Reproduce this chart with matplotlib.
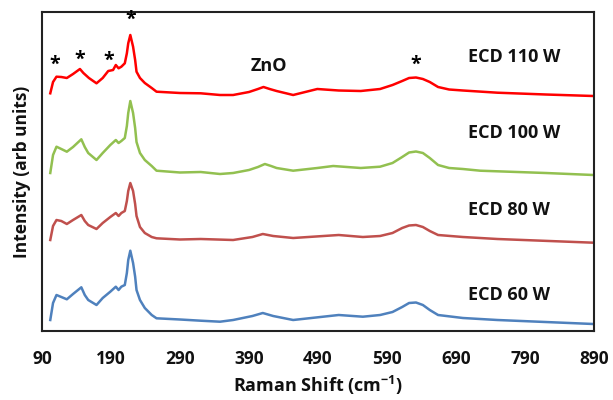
import numpy as np
import matplotlib.pyplot as plt

# Raman shift positions (cm-1) and intensities
shift_110 = [102, 106, 111, 118, 126, 135, 145, 150, 158, 169, 178, 186, 193, 197, 201, 205, 210, 213, 215, 218, 222, 225, 227, 232, 239, 249, 256, 290, 320, 348, 367, 390, 403, 411, 420, 430, 454, 489, 520, 552, 580, 598, 612, 622, 632, 642, 652, 664, 680, 700, 750, 820, 889]
ecd_110 = [237.7, 249, 254.3, 254, 253, 257, 262, 258, 253, 247.7, 253, 260, 261, 266, 262.7, 264.3, 267.7, 277.7, 287.7, 296, 284.3, 271, 259.3, 253, 248, 243, 239.3, 238, 237.7, 236, 236, 239, 242, 244, 242, 240, 236, 242, 240.5, 240, 242, 246, 250, 253, 253.5, 252, 249, 244, 241.5, 240.5, 238.3, 236.5, 235]

shift_100 = [102, 106, 111, 118, 126, 135, 147, 152, 157, 169, 178, 189, 197, 201, 205, 210, 213, 215, 218, 222, 225, 227, 232, 239, 249, 256, 290, 320, 348, 367, 390, 403, 413, 422, 430, 454, 489, 512, 552, 580, 598, 612, 622, 632, 642, 652, 664, 680, 700, 725, 820, 889]
ecd_100 = [158, 176, 184.3, 182, 179.3, 184, 191.7, 184, 178, 171, 178, 186, 191, 188, 190, 193, 205, 218, 230, 218, 203, 189, 178, 171, 165, 160.3, 158.5, 159, 157, 158, 161, 164, 167, 165, 163, 160.3, 163, 165, 163, 164.3, 168, 174, 178.5, 179.5, 178, 173, 166, 163, 162, 160.3, 158, 156]

shift_80 = [102, 106, 111, 118, 126, 135, 147, 152, 157, 169, 178, 189, 197, 201, 205, 210, 213, 215, 218, 222, 225, 227, 232, 239, 249, 256, 290, 320, 367, 395, 410, 425, 454, 520, 555, 580, 598, 612, 622, 632, 642, 652, 664, 700, 750, 889]
ecd_80 = [91, 105, 111, 110, 107, 111, 116, 110, 106, 102, 108, 114, 118, 115, 118, 120, 130, 140, 148, 140, 127, 115, 104, 98, 94, 92.7, 91.5, 92, 91, 94, 97, 95, 93, 96, 94, 95, 98, 103, 105.5, 106, 104, 100, 96, 94, 92, 88.3]

shift_60 = [102, 106, 111, 118, 126, 135, 147, 152, 157, 169, 178, 189, 197, 201, 205, 210, 213, 215, 218, 222, 225, 227, 232, 239, 249, 256, 290, 320, 348, 367, 395, 410, 425, 454, 520, 555, 580, 598, 612, 622, 632, 642, 652, 664, 700, 750, 889]
ecd_60 = [11, 28, 36, 34, 31.7, 37, 43.7, 36, 31, 26, 33, 39.3, 44.3, 41, 44.3, 46, 58, 71, 80.3, 68, 54.3, 41, 31, 23, 16, 12.7, 11.5, 10.3, 9.3, 11, 15, 18, 15, 11, 16, 14.3, 16, 19, 24, 28, 28.5, 26, 21, 16, 13, 11, 7]

labels = ['ECD 110 W', 'ECD 100 W', 'ECD 80 W', 'ECD 60 W']
label_y = [274, 198, 121, 36]
star_x = [109, 144, 187, 219, 632]
star_y = [266, 271, 270, 311, 266]
xticks = np.arange(90, 891, 100)

plt.rcParams['font.family'] = ['Open Sans', 'DejaVu Sans']
fw = 'bold'

fig = plt.figure(figsize=(6.13, 4.0), dpi=100)
ax = fig.add_axes([0.0685, 0.1725, 0.9005, 0.7975])

ax.plot(shift_110, ecd_110, color='#FF0000', lw=1.8)
ax.plot(shift_100, ecd_100, color='#92C050', lw=1.8)
ax.plot(shift_80, ecd_80, color='#C0504D', lw=1.8)
ax.plot(shift_60, ecd_60, color='#4F81BD', lw=1.8)

for lab, yy in zip(labels, label_y):
    ax.text(708, yy, lab, fontsize=13, fontweight=fw, color='#111111', va='center', ha='left')
ax.text(419, 265, 'ZnO', fontsize=13, fontweight=fw, color='#111111', va='center', ha='center')
for sx, sy in zip(star_x, star_y):
    ax.text(sx, sy, '*', fontsize=14, fontweight='bold', va='center', ha='center')

ax.set_xlim(90, 890)
ax.set_ylim(0, 319)
ax.set_xticks(xticks)
ax.set_xticklabels([str(t) for t in xticks], fontsize=12.5, fontweight=fw, color='#111111')
ax.set_yticks([])
ax.tick_params(axis='x', length=0, pad=14)
for s in ax.spines.values():
    s.set_linewidth(1.5)
    s.set_color('#222222')

ax.set_xlabel('Raman Shift (cm$^{\\mathregular{-1}}$)', fontsize=13, fontweight=fw, color='#111111', labelpad=4)
ax.set_ylabel('Intensity (arb units)', fontsize=12.5, fontweight=fw, color='#111111', labelpad=8)

fig.savefig('out.png', dpi=100)
